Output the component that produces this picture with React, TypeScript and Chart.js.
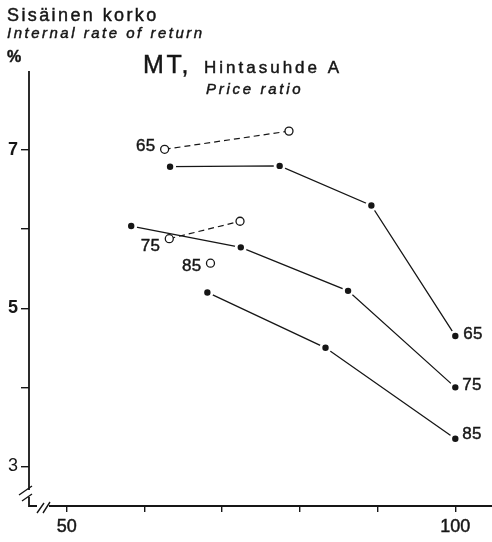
import React, { useEffect, useRef } from "react";
import { Chart, registerables } from "chart.js";

Chart.register(...registerables);

// Hintasuhde (price ratio) series, measured internal rate of return (%)
const ratioNames = ["65", "75", "85"];

const solid65X = [63.3, 77.4, 89.2, 100];
const solid65Y = [6.79, 6.8, 6.3, 4.65];
const solid75X = [58.3, 72.4, 86.2, 100];
const solid75Y = [6.04, 5.77, 5.22, 4.0];
const solid85X = [68.1, 83.3, 100];
const solid85Y = [5.2, 4.5, 3.35];

const open65X = [62.6, 78.6];
const open65Y = [7.01, 7.24];
const open75X = [63.2, 72.3];
const open75Y = [5.88, 6.1];
const open85X = [68.5];
const open85Y = [5.57];

const xTickValues = [50, 60, 70, 80, 90, 100];
const xTickLabels = ["50", "", "", "", "", "100"];
const yTickValues = [3, 4, 5, 6, 7];
const yTickLabels = ["3", "", "5", "", "7"];

const INK = "#161616";
const FONT = "'Liberation Sans', Arial, Helvetica, sans-serif";

const toPoints = (xs: number[], ys: number[]) => xs.map((x, i) => ({ x, y: ys[i] }));

// label placement next to a chosen point of a dataset: [datasetIndex, pointIndex, text, dx, dy, align]
type Tag = [number, number, string, number, number, CanvasTextAlign];

export default function App() {
  const canvasRef = useRef<HTMLCanvasElement | null>(null);

  useEffect(() => {
    const canvas = canvasRef.current;
    if (!canvas) return;

    const solid = (xs: number[], ys: number[]) => ({
      data: toPoints(xs, ys),
      borderColor: INK,
      borderWidth: 1.3,
      showLine: true,
      pointRadius: 4.6,
      pointBorderWidth: 2.8,
      pointBackgroundColor: INK,
      pointBorderColor: "#ffffff",
      tension: 0,
    });
    const hollow = (xs: number[], ys: number[]) => ({
      data: toPoints(xs, ys),
      borderColor: INK,
      borderWidth: 1.2,
      borderDash: [6, 4],
      showLine: true,
      pointRadius: 4,
      pointBorderWidth: 1.3,
      pointBackgroundColor: "#ffffff",
      pointBorderColor: INK,
      tension: 0,
    });

    const datasets = [
      solid(solid65X, solid65Y),
      solid(solid75X, solid75Y),
      solid(solid85X, solid85Y),
      hollow(open65X, open65Y),
      hollow(open75X, open75Y),
      hollow(open85X, open85Y),
    ];

    const tags: Tag[] = [
      [3, 0, ratioNames[0], -9, -3, "right"],
      [4, 0, ratioNames[1], -9, 8, "right"],
      [5, 0, ratioNames[2], -9, 3, "right"],
      [0, solid65X.length - 1, ratioNames[0], 8, -2, "left"],
      [1, solid75X.length - 1, ratioNames[1], 7, -2, "left"],
      [2, solid85X.length - 1, ratioNames[2], 7, -4, "left"],
    ];

    const text = (ctx: any, s: string, x: number, y: number, font: string, spacing: number) => {
      ctx.font = font;
      ctx.letterSpacing = `${spacing}px`;
      ctx.fillText(s, x, y);
      ctx.strokeText(s, x, y);
    };

    const decorations = {
      id: "decorations",
      beforeDatasetsDraw(chart: any) {
        const { ctx, chartArea } = chart;
        const { left, right, top, bottom } = chartArea;
        ctx.save();
        ctx.strokeStyle = INK;
        ctx.lineWidth = 1.8;
        ctx.lineCap = "butt";
        ctx.beginPath();
        // vertical axis with a break near the origin
        ctx.moveTo(left, top);
        ctx.lineTo(left, bottom - 16);
        ctx.moveTo(left, bottom - 9);
        ctx.lineTo(left, bottom);
        // horizontal axis with a break near the origin
        ctx.lineTo(left + 8, bottom);
        ctx.moveTo(left + 20, bottom);
        ctx.lineTo(right, bottom);
        ctx.stroke();
        ctx.lineWidth = 1.4;
        ctx.beginPath();
        // break slashes
        ctx.moveTo(left - 10, bottom - 11);
        ctx.lineTo(left + 3, bottom - 20);
        ctx.moveTo(left - 7, bottom - 5);
        ctx.lineTo(left + 3, bottom - 12);
        ctx.moveTo(left + 8, bottom + 7);
        ctx.lineTo(left + 15, bottom - 3);
        ctx.moveTo(left + 14, bottom + 7);
        ctx.lineTo(left + 21, bottom - 4);
        ctx.stroke();
        ctx.restore();
      },
      afterDatasetsDraw(chart: any) {
        const { ctx } = chart;
        ctx.save();
        ctx.fillStyle = INK;
        ctx.strokeStyle = INK;
        ctx.lineWidth = 0.45;
        ctx.textBaseline = "middle";
        for (const [di, pi, s, dx, dy, align] of tags) {
          const el = chart.getDatasetMeta(di).data[pi];
          if (!el) continue;
          ctx.textAlign = align;
          text(ctx, s, el.x + dx, el.y + dy, `17px ${FONT}`, 0.3);
        }

        // titles
        ctx.textAlign = "left";
        ctx.textBaseline = "alphabetic";
        text(ctx, "Sisäinen korko", 7, 21, `18px ${FONT}`, 2.4);
        text(ctx, "Internal rate of return", 7, 38, `italic 15px ${FONT}`, 2.5);
        text(ctx, "%", 7, 62, `bold 16px ${FONT}`, 0);
        text(ctx, "MT,", 143, 73, `25px ${FONT}`, 2.6);
        text(ctx, "Hintasuhde A", 204, 73, `17px ${FONT}`, 3);
        text(ctx, "Price ratio", 206, 94, `italic 15px ${FONT}`, 2.7);
        ctx.restore();
      },
    };

    const chart = new Chart(canvas, {
      type: "scatter",
      data: { datasets: datasets as any },
      options: {
        animation: false,
        responsive: false,
        maintainAspectRatio: false,
        layout: { autoPadding: false, padding: { top: 71, left: 0, right: 0, bottom: 0 } },
        plugins: { legend: { display: false }, tooltip: { enabled: false } },
        scales: {
          x: {
            type: "linear",
            min: 45.15,
            max: 104.72,
            afterFit: (s: any) => {
              s.height = 36;
              s.paddingLeft = 0;
              s.paddingRight = 0;
            },
            afterBuildTicks: (s: any) => {
              s.ticks = xTickValues.map((v) => ({ value: v }));
            },
            border: { display: false },
            grid: {
              drawOnChartArea: false,
              drawTicks: true,
              tickLength: 6,
              color: INK,
              lineWidth: 1.4,
            },
            ticks: {
              color: INK,
              padding: 4,
              textStrokeColor: INK,
              textStrokeWidth: 0.45,
              font: { family: FONT, size: 18 },
              callback: (v: any) => xTickLabels[xTickValues.indexOf(Number(v))] ?? "",
            },
          },
          y: {
            type: "linear",
            min: 2.5,
            max: 8,
            afterFit: (s: any) => {
              s.width = 29;
              s.paddingTop = 0;
              s.paddingBottom = 0;
            },
            afterBuildTicks: (s: any) => {
              s.ticks = yTickValues.map((v) => ({ value: v }));
            },
            border: { display: false },
            grid: {
              drawOnChartArea: false,
              drawTicks: true,
              tickLength: 8,
              color: INK,
              lineWidth: 1.4,
            },
            ticks: {
              color: INK,
              padding: 3,
              font: (c: any) => ({
                family: FONT,
                size: 18,
                weight: c.tick && c.tick.value === 3 ? "normal" : "bold",
              }),
              callback: (v: any) => yTickLabels[yTickValues.indexOf(Number(v))] ?? "",
            },
          },
        },
      },
      plugins: [decorations],
    });

    return () => chart.destroy();
  }, []);

  return (
    <div style={{ position: "fixed", left: 0, top: 0, width: 492, height: 542, background: "#fff" }}>
      <canvas ref={canvasRef} width={492} height={542} style={{ display: "block" }} />
    </div>
  );
}
